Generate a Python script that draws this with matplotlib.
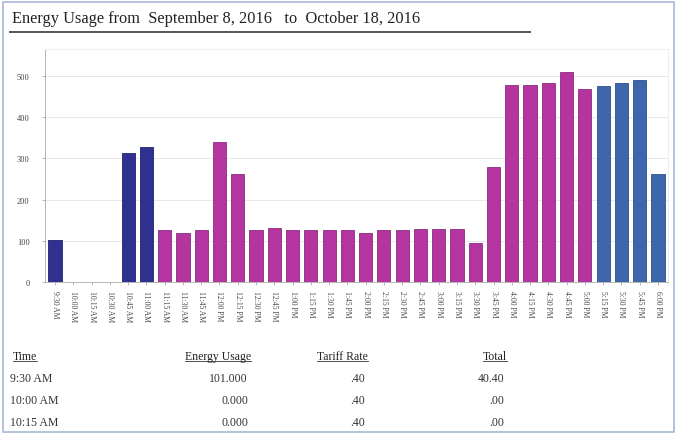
import matplotlib.pyplot as plt
from matplotlib.patches import Rectangle
from matplotlib.lines import Line2D

plt.rcParams['font.family'] = ['Liberation Serif', 'DejaVu Serif']

# time slots on the x axis
times = ["9:30 AM", "10:00 AM", "10:15 AM", "10:30 AM", "10:45 AM", "11:00 AM",
         "11:15 AM", "11:30 AM", "11:45 AM", "12:00 PM", "12:15 PM", "12:30 PM",
         "12:45 PM", "1:00 PM", "1:15 PM", "1:30 PM", "1:45 PM", "2:00 PM",
         "2:15 PM", "2:30 PM", "2:45 PM", "3:00 PM", "3:15 PM", "3:30 PM",
         "3:45 PM", "4:00 PM", "4:15 PM", "4:30 PM", "4:45 PM", "5:00 PM",
         "5:15 PM", "5:30 PM", "5:45 PM", "6:00 PM"]
usage = [101, 0, 0, 0, 314, 328, 126, 120, 126, 340, 261, 127,
         130, 127, 127, 126, 126, 119, 125, 126, 128, 128, 128, 94,
         278, 477, 477, 482, 509, 469, 475, 482, 490, 261]
groups = ["navy"] * 6 + ["magenta"] * 24 + ["blue"] * 4
yticks = [0, 100, 200, 300, 400, 500]

# small table under the chart
table_header = ["Time", "Energy Usage", "Tariff Rate", "Total"]
table_rows = [["9:30 AM", "101.000", ".40", "40.40"],
              ["10:00 AM", "0.000", ".40", ".00"],
              ["10:15 AM", "0.000", ".40", ".00"]]

palette = {"navy": ("#2e3190", "#1f2170"),
           "magenta": ("#b4359f", "#8e2a80"),
           "blue": ("#3e66ad", "#2c4f8c")}

fig = plt.figure(figsize=(6.78, 4.39), dpi=100)
W, H = 678, 439

# outer frame
fig.patches.append(Rectangle((3 / W, 6 / H), 671 / W, 430 / H, transform=fig.transFigure,
                             fill=False, edgecolor="#a8b6d8", linewidth=1.2))

# title + rule
fig.text(12 / W, 1 - 19 / H, "Energy Usage from  September 8, 2016   to  October 18, 2016",
         fontsize=11.8, va="center", ha="left", color="#222222")
fig.add_artist(Line2D([10 / W, 530 / W], [1 - 33 / H, 1 - 33 / H], transform=fig.transFigure,
                      color="#555555", linewidth=1.4))

ax = fig.add_axes([45 / W, 156 / H, 623 / W, 233 / H])
x = list(range(len(usage)))
ax.bar(x, usage, width=0.72,
       color=[palette[g][0] for g in groups],
       edgecolor=[palette[g][1] for g in groups], linewidth=0.6, zorder=3)

ax.set_xlim(-0.55, len(usage) - 0.45)
ax.set_ylim(0, 565)
ax.set_yticks(yticks)
ax.set_yticklabels([str(v) for v in yticks], fontsize=6, color="#444444")
ax.set_xticks(x)
ax.set_xticklabels(times, rotation=270, fontsize=5.5, color="#444444")
ax.tick_params(axis="both", length=2, width=0.5, color="#999999")
ax.tick_params(axis="y", pad=9)
ax.tick_params(axis="x", pad=4)
ax.yaxis.grid(True, color="#e4e4e4", linewidth=0.6, zorder=0)
for side in ["top", "right"]:
    ax.spines[side].set_color("#eeeeee")
for side in ["left", "bottom"]:
    ax.spines[side].set_color("#aaaaaa")
    ax.spines[side].set_linewidth(0.6)

# table
cols_x = [13, 251, 368, 507]
aligns = ["left", "right", "right", "right"]
head_y = 360
fig.canvas.draw()
renderer = fig.canvas.get_renderer()
for cx, al, name in zip(cols_x, aligns, table_header):
    t = fig.text(cx / W, 1 - head_y / H, name, fontsize=8.5, ha=al, va="baseline", color="#222222")
    bb = t.get_window_extent(renderer=renderer)
    fig.add_artist(Line2D([bb.x0 / W, bb.x1 / W], [(H - head_y - 2) / H] * 2,
                          transform=fig.transFigure, color="#333333", linewidth=0.6))
for i, row in enumerate(table_rows):
    ry = 382 + i * 22
    for cx, al, val in zip(cols_x, aligns, row):
        fig.text((cx - 3) / W, 1 - ry / H, val, fontsize=8.5, ha=al, va="baseline", color="#333333")

fig.savefig("out.png", dpi=100)
